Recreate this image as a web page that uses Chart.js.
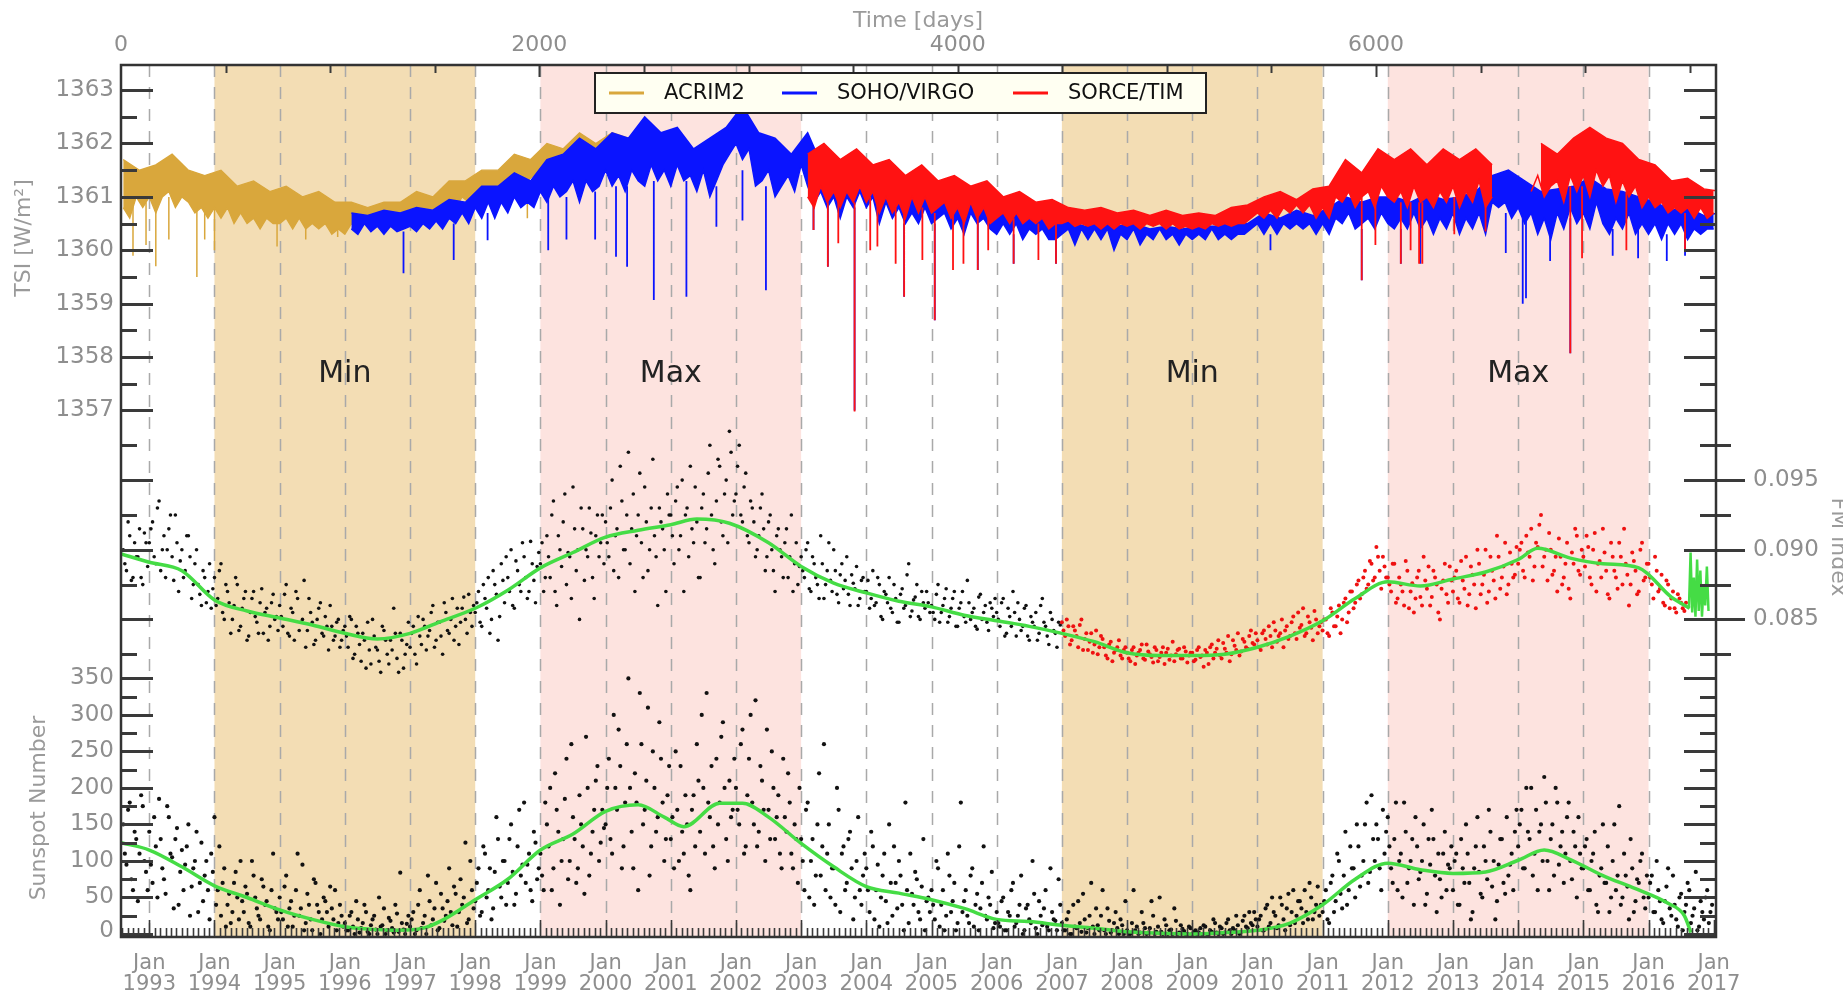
<!DOCTYPE html>
<html>
<head>
<meta charset="utf-8">
<script src="https://cdn.jsdelivr.net/npm/chart.js@4.4.0/dist/chart.umd.min.js"></script>
<style>
  html, body { margin: 0; padding: 0; background: #fff; }
  #wrap { width: 1843px; height: 999px; }
</style>
</head>
<body>
<div id="wrap"><canvas id="chart" width="1843" height="999"></canvas></div>
<script>
// ---- axis ranges ----
const yearMin = 1992.566, yearMax = 2017.035;
const dayMin = 0, dayMax = 7625;
const tsiMin = 1347.14, tsiMax = 1363.47;
const spotMin = -4.1, spotMax = 1190;
const fmMin = 0.0622, fmMax = 0.1248;

// ---- tick labels ----
const yearTicks = [1993, 1994, 1995, 1996, 1997, 1998, 1999, 2000, 2001, 2002, 2003, 2004, 2005,
  2006, 2007, 2008, 2009, 2010, 2011, 2012, 2013, 2014, 2015, 2016, 2017];
const dayTicks = [0, 2000, 4000, 6000];
const tsiTicks = [1357, 1358, 1359, 1360, 1361, 1362, 1363];
const spotTicks = [0, 50, 100, 150, 200, 250, 300, 350];
const fmTicks = [0.085, 0.090, 0.095];

// ---- solar cycle phases ----
const minBands = [[1994, 1998], [2007, 2011]];
const maxBands = [[1999, 2003], [2012, 2016]];
const phaseLabels = [[1996, 'Min'], [2001, 'Max'], [2009, 'Min'], [2014, 'Max']];

// ---- TSI, W/m^2: lower edge every 0.1 yr, upper edge every 0.25 yr, dips listed apart ----
const lowStep = 0.1, topStep = 0.25;
const acrimStart = 1992.6;
const acrim2Low = [
  1360.8, 1360.6, 1361.0, 1360.8,
  1361.0, 1360.7, 1361.0, 1361.1, 1360.8, 1361.0, 1360.9, 1360.7, 1360.8, 1360.6,
  1360.8, 1360.6, 1360.8, 1360.5, 1360.7, 1360.5, 1360.6, 1360.4, 1360.6, 1360.5,
  1360.5, 1360.6, 1360.4, 1360.6, 1360.4, 1360.5, 1360.4, 1360.5, 1360.3, 1360.4,
  1360.3, 1360.5, 1360.4, 1360.5, 1360.4, 1360.5, 1360.5, 1360.5, 1360.6, 1360.5,
  1360.6, 1360.6, 1360.7, 1360.6, 1360.7, 1360.8, 1360.9, 1360.8, 1361.0, 1360.9,
  1361.0, 1361.1, 1361.0, 1361.2, 1361.1, 1361.3, 1361.2, 1361.4, 1361.3, 1361.4,
  1361.3, 1361.5, 1361.4, 1361.6, 1361.5, 1361.7, 1361.6, 1361.8, 1361.7, 1361.8,
  1361.6, 1361.8, 1361.7, 1361.8, 1361.6, 1361.8, 1361.7, 1361.9, 1361.7
];
const acrim2Top = [
  1361.7, 1361.5,
  1361.6, 1361.8, 1361.5, 1361.4,
  1361.5, 1361.2, 1361.3, 1361.1,
  1361.2, 1361.0, 1361.1, 1360.9,
  1360.9, 1360.8, 1360.9, 1360.9,
  1361.1, 1361.0, 1361.3, 1361.3,
  1361.5, 1361.5, 1361.8, 1361.7,
  1362.0, 1361.9, 1362.2, 1362.0,
  1362.2, 1362.1, 1362.3, 1362.1
];
const acrim2DipYears = [1992.75, 1992.95, 1993.1, 1993.3, 1993.73, 1993.85, 1994.0, 1994.96, 1995.4, 1995.89, 1998.8];
const acrim2DipFrom = [1360.9, 1360.9, 1361.0, 1361.0, 1360.9, 1360.8, 1360.8, 1360.6, 1360.5, 1360.4, 1361.3];
const acrim2DipTo = [1359.9, 1360.1, 1359.7, 1360.2, 1359.5, 1360.2, 1360.0, 1360.07, 1360.2, 1360.25, 1360.6];

const virgoStart = 1996.1;
const sohoVirgoLow = [
  1360.4, 1360.3, 1360.5, 1360.35, 1360.45, 1360.3, 1360.45, 1360.35, 1360.4,
  1360.45, 1360.35, 1360.5, 1360.4, 1360.55, 1360.4, 1360.6, 1360.5, 1360.7, 1360.5,
  1360.8, 1360.6, 1360.9, 1360.6, 1360.9, 1360.7, 1361.0, 1360.8, 1360.9, 1360.8,
  1361.1, 1360.9, 1361.2, 1361.0, 1361.1, 1361.3, 1360.9, 1361.3, 1361.1, 1361.2,
  1361.5, 1361.2, 1361.4, 1361.1, 1361.5, 1361.3, 1361.2, 1361.6, 1361.3, 1361.5,
  1361.2, 1361.6, 1361.3, 1361.4, 1361.1, 1361.5, 1361.0, 1361.3, 1361.6, 1361.8,
  1362.0, 1361.7, 1361.9, 1361.2, 1361.3, 1361.5, 1361.0, 1361.2, 1361.4, 1361.1,
  1361.6, 1361.2, 1360.9, 1361.1, 1360.8, 1361.0, 1360.6, 1361.0, 1360.8, 1361.1,
  1360.8, 1361.0, 1360.5, 1360.9, 1360.6, 1360.8, 1360.5, 1360.7, 1360.5, 1360.8,
  1360.5, 1360.6, 1360.7, 1360.4, 1360.6, 1360.3, 1360.7, 1360.5, 1360.6, 1360.4,
  1360.3, 1360.5, 1360.3, 1360.5, 1360.2, 1360.4, 1360.3, 1360.4, 1360.2, 1360.2,
  1360.3, 1360.4, 1360.1, 1360.4, 1360.2, 1360.4, 1360.2, 1360.4, 1360.0, 1360.3,
  1360.2, 1360.4, 1360.1, 1360.3, 1360.2, 1360.4, 1360.2, 1360.3, 1360.1, 1360.3,
  1360.2, 1360.3, 1360.2, 1360.4, 1360.2, 1360.3, 1360.2, 1360.3, 1360.3, 1360.4,
  1360.5, 1360.3, 1360.5, 1360.3, 1360.5, 1360.4, 1360.5, 1360.4, 1360.5, 1360.3,
  1360.5, 1360.3, 1360.6, 1360.5, 1360.7, 1360.4, 1360.5, 1360.6, 1360.4, 1360.7,
  1360.5, 1360.4, 1360.6, 1360.4, 1360.7, 1360.4, 1360.6, 1360.3, 1360.6, 1360.4,
  1360.7, 1360.3, 1360.6, 1360.4, 1360.7, 1360.3, 1360.9, 1360.8, 1360.9, 1360.6,
  1360.8, 1360.5, 1360.7, 1360.3, 1360.6, 1360.2, 1360.7, 1360.4, 1360.8, 1360.5,
  1360.7, 1360.4, 1360.9, 1360.5, 1360.3, 1360.6, 1360.4, 1360.7, 1360.3, 1360.5,
  1360.3, 1360.5, 1360.2, 1360.5, 1360.3, 1360.5, 1360.2, 1360.4, 1360.3, 1360.4,
  1360.4
];
const sohoVirgoTop = [
  1360.7, 1360.65, 1360.75, 1360.7,
  1360.8, 1360.75, 1360.95, 1360.9,
  1361.2, 1361.2, 1361.45, 1361.3,
  1361.7, 1361.8, 1362.1, 1361.9,
  1362.2, 1362.1, 1362.5, 1362.2,
  1362.3, 1361.9, 1362.1, 1362.3,
  1362.7, 1362.2, 1362.1, 1361.8,
  1362.2, 1361.5, 1361.6, 1361.4,
  1361.4, 1361.2, 1361.3, 1361.1,
  1361.2, 1360.9, 1361.1, 1360.9,
  1360.9, 1360.7, 1360.8, 1360.6,
  1360.55, 1360.45, 1360.5, 1360.45,
  1360.5, 1360.4, 1360.45, 1360.4,
  1360.45, 1360.45, 1360.5, 1360.5,
  1360.7, 1360.6, 1360.75, 1360.65,
  1360.8, 1361.0, 1360.9, 1361.0,
  1361.0, 1360.9, 1361.05, 1360.95,
  1361.0, 1361.1, 1361.4, 1361.5,
  1361.3, 1361.1, 1361.15, 1361.2,
  1361.35, 1361.15, 1361.1, 1361.0,
  1360.9, 1360.75, 1360.8, 1360.65,
  1360.7
];
const sohoVirgoDipYears = [1996.9, 1997.67, 1998.19, 1999.12, 1999.4, 1999.84, 2000.16, 2000.33, 2000.74,
  2001.24, 2001.7, 2002.1, 2002.46, 2003.19, 2003.41, 2003.82, 2004.58, 2005.05, 2005.71, 2006.26,
  2006.91, 2010.2, 2011.6, 2012.2, 2012.5, 2013.81, 2014.07, 2014.12, 2014.49, 2014.8, 2015.45,
  2015.84, 2016.28, 2016.56];
const sohoVirgoDipFrom = [1360.35, 1360.5, 1360.7, 1361.0, 1361.0, 1361.1, 1361.2, 1361.2, 1361.3,
  1361.3, 1361.2, 1361.5, 1361.2, 1360.9, 1360.9, 1360.8, 1360.5, 1360.5, 1360.5, 1360.3,
  1360.2, 1360.3, 1360.4, 1360.4, 1360.4, 1360.7, 1360.6, 1360.6, 1360.5, 1360.6, 1360.4,
  1360.4, 1360.3, 1360.3];
const sohoVirgoDipTo = [1359.57, 1359.82, 1360.19, 1360.0, 1360.2, 1360.2, 1359.88, 1359.69, 1359.07,
  1359.13, 1360.44, 1360.56, 1359.25, 1360.38, 1359.69, 1357.0, 1359.13, 1358.69, 1359.63, 1359.75,
  1359.75, 1360.0, 1359.44, 1359.75, 1359.75, 1359.95, 1359.0, 1359.1, 1359.8, 1358.07, 1359.9,
  1359.85, 1359.8, 1359.9];

const timStart = 2003.1;
const sorceTimLow = [
  1361.0, 1360.8, 1361.2, 1360.9, 1361.1, 1360.8, 1361.1, 1360.9, 1361.2,
  1360.9, 1361.1, 1360.7, 1361.0, 1360.7, 1360.9, 1360.6, 1361.0, 1360.7, 1361.0,
  1360.7, 1360.8, 1360.9, 1360.6, 1360.8, 1360.5, 1360.9, 1360.6, 1360.8, 1360.5,
  1360.6, 1360.7, 1360.5, 1360.7, 1360.5, 1360.6, 1360.5, 1360.6, 1360.4, 1360.5,
  1360.5, 1360.55, 1360.45, 1360.5, 1360.45, 1360.5, 1360.4, 1360.5, 1360.4, 1360.5,
  1360.45, 1360.5, 1360.4, 1360.5, 1360.45, 1360.5, 1360.4, 1360.5, 1360.4, 1360.45,
  1360.4, 1360.45, 1360.4, 1360.5, 1360.45, 1360.5, 1360.45, 1360.5, 1360.5, 1360.6,
  1360.7, 1360.6, 1360.75, 1360.6, 1360.8, 1360.7, 1360.85, 1360.7, 1360.85, 1360.6,
  1360.8, 1360.6, 1361.0, 1360.9, 1361.1, 1360.8, 1361.0, 1361.1, 1360.8, 1361.2,
  1361.0, 1360.9, 1361.1, 1360.8, 1361.2, 1360.9, 1361.0, 1360.8, 1361.1, 1360.9,
  1361.2, 1360.8, 1361.1, 1360.9, 1361.3, 1360.8, 1361.0, null, null, null,
  null, null, 1361.1, 1361.4, 1361.0, 1361.2, 1361.3, 1360.9, 1361.4, 1361.1,
  1361.4, 1361.0, 1361.5, 1361.2, 1361.4, 1360.9, 1361.3, 1361.0, 1361.2, 1360.8,
  1361.0, 1360.8, 1360.9, 1360.7, 1360.8, 1360.7, 1360.8, 1360.6, 1360.8, 1360.6,
  1360.7
];
const sorceTimTop = [
  1361.8, 1362.0, 1361.7, 1361.9,
  1361.6, 1361.7, 1361.4, 1361.6,
  1361.3, 1361.4, 1361.2, 1361.3,
  1361.0, 1361.1, 1360.9, 1360.95,
  1360.8, 1360.75, 1360.8, 1360.7,
  1360.75, 1360.65, 1360.75, 1360.65,
  1360.7, 1360.65, 1360.8, 1360.85,
  1361.0, 1361.1, 1360.95, 1361.15,
  1361.2, 1361.7, 1361.45, 1361.9,
  1361.7, 1361.9, 1361.6, 1361.9,
  1361.7, 1361.9, 1361.6, null,
  null, 1362.0, 1361.8, 1362.1,
  1362.3, 1362.1, 1362.0, 1361.7,
  1361.6, 1361.3, 1361.35, 1361.15,
  1361.1
];
const sorceTimDipYears = [2003.19, 2003.41, 2003.57, 2003.82, 2004.06, 2004.17, 2004.45, 2004.58, 2004.86,
  2005.05, 2005.33, 2005.49, 2005.71, 2005.87, 2006.26, 2006.64, 2006.91, 2011.6, 2011.81, 2012.2,
  2012.35, 2012.48, 2012.53, 2013.02, 2013.5, 2014.8, 2014.98, 2015.66, 2016.56];
const sorceTimDipFrom = [1361.0, 1360.9, 1361.0, 1360.9, 1361.0, 1360.9, 1360.8, 1360.7, 1360.8,
  1360.7, 1360.7, 1360.6, 1360.7, 1360.6, 1360.6, 1360.5, 1360.5, 1361.0, 1361.0, 1360.9,
  1360.9, 1360.9, 1360.9, 1361.0, 1360.9, 1361.2, 1361.2, 1361.1, 1360.7];
const sorceTimDipTo = [1360.38, 1359.69, 1360.13, 1356.98, 1360.0, 1360.07, 1359.75, 1359.13, 1359.82,
  1358.69, 1359.63, 1359.75, 1359.63, 1360.0, 1359.75, 1359.82, 1359.75, 1359.44, 1360.1, 1359.75,
  1360.0, 1359.75, 1359.75, 1360.3, 1360.35, 1358.07, 1359.85, 1360.0, 1360.0];

// ---- FM index daily samples, two interleaved sets every 0.05 yr ----
const dotStep = 0.05;
const fmBlackStart = 1992.6;
const fmBlack = [
  0.0900, 0.0885, 0.0910, 0.0880, 0.0895, 0.0915, 0.0875, 0.0905,
  0.0905, 0.0920, 0.0890, 0.0935, 0.0900, 0.0880, 0.0915, 0.0895, 0.0925, 0.0870, 0.0900, 0.0885, 0.0910, 0.0865, 0.0890, 0.0875, 0.0860, 0.0880, 0.0870, 0.0858,
  0.0880, 0.0865, 0.0890, 0.0850, 0.0870, 0.0840, 0.0860, 0.0875, 0.0845, 0.0865, 0.0835, 0.0855, 0.0870, 0.0848, 0.0862, 0.0840, 0.0858, 0.0845, 0.0868, 0.0852,
  0.0860, 0.0845, 0.0875, 0.0838, 0.0855, 0.0870, 0.0842, 0.0850, 0.0830, 0.0865, 0.0848, 0.0835, 0.0858, 0.0840, 0.0852, 0.0828, 0.0845, 0.0838, 0.0850, 0.0835,
  0.0845, 0.0830, 0.0850, 0.0825, 0.0840, 0.0820, 0.0835, 0.0848, 0.0818, 0.0838, 0.0828, 0.0812, 0.0842, 0.0825, 0.0835, 0.0858, 0.0822, 0.0840, 0.0815, 0.0832,
  0.0830, 0.0845, 0.0818, 0.0838, 0.0850, 0.0828, 0.0842, 0.0860, 0.0835, 0.0848, 0.0825, 0.0855, 0.0840, 0.0865, 0.0845, 0.0832, 0.0858, 0.0850, 0.0868, 0.0845,
  0.0855, 0.0870, 0.0845, 0.0865, 0.0880, 0.0850, 0.0875, 0.0835, 0.0890, 0.0862, 0.0880, 0.0900, 0.0858, 0.0885, 0.0870, 0.0895, 0.0865, 0.0906, 0.0878, 0.0888,
  0.0890, 0.0870, 0.0910, 0.0880, 0.0935, 0.0860, 0.0900, 0.0920, 0.0875, 0.0895, 0.0945, 0.0885, 0.0850, 0.0915, 0.0900, 0.0930, 0.0880, 0.0910, 0.0895, 0.0925,
  0.0920, 0.0895, 0.0950, 0.0910, 0.0880, 0.0935, 0.0900, 0.0970, 0.0915, 0.0870, 0.0925, 0.0905, 0.0945, 0.0885, 0.0930, 0.0910, 0.0860, 0.0920, 0.0900, 0.0940,
  0.0925, 0.0890, 0.0945, 0.0910, 0.0870, 0.0930, 0.0960, 0.0905, 0.0920, 0.0880, 0.0940, 0.0915, 0.0975, 0.0900, 0.0935, 0.0960, 0.0910, 0.0950, 0.0985, 0.0925,
  0.0940, 0.0975, 0.0920, 0.0955, 0.0905, 0.0930, 0.0895, 0.0910, 0.0940, 0.0885, 0.0920, 0.0900, 0.0870, 0.0915, 0.0895, 0.0905, 0.0880, 0.0925, 0.0890, 0.0875,
  0.0895, 0.0880, 0.0905, 0.0870, 0.0890, 0.0875, 0.0910, 0.0865, 0.0885, 0.0878, 0.0900, 0.0868, 0.0882, 0.0872, 0.0895, 0.0860, 0.0876, 0.0888, 0.0865, 0.0880,
  0.0870, 0.0858, 0.0885, 0.0862, 0.0875, 0.0850, 0.0868, 0.0880, 0.0855, 0.0865, 0.0848, 0.0872, 0.0860, 0.0890, 0.0856, 0.0866, 0.0852, 0.0870, 0.0858, 0.0862,
  0.0860, 0.0850, 0.0875, 0.0855, 0.0865, 0.0848, 0.0858, 0.0870, 0.0845, 0.0862, 0.0852, 0.0878, 0.0850, 0.0858, 0.0843, 0.0868, 0.0855, 0.0848, 0.0862, 0.0852,
  0.0855, 0.0845, 0.0865, 0.0840, 0.0852, 0.0870, 0.0838, 0.0850, 0.0845, 0.0860, 0.0835, 0.0848, 0.0855, 0.0840, 0.0865, 0.0845, 0.0832, 0.0850, 0.0840, 0.0848
];
const fmBlackB = [
  0.0890, 0.0920, 0.0878, 0.0905, 0.0895, 0.0880, 0.0912, 0.0888,
  0.0915, 0.0895, 0.0930, 0.0885, 0.0910, 0.0900, 0.0925, 0.0878, 0.0905, 0.0892, 0.0880, 0.0910, 0.0895, 0.0875, 0.0900, 0.0868, 0.0885, 0.0862, 0.0890, 0.0872,
  0.0860, 0.0885, 0.0855, 0.0875, 0.0862, 0.0850, 0.0880, 0.0842, 0.0858, 0.0870, 0.0838, 0.0865, 0.0852, 0.0840, 0.0872, 0.0855, 0.0835, 0.0862, 0.0850, 0.0842,
  0.0852, 0.0868, 0.0840, 0.0858, 0.0835, 0.0865, 0.0848, 0.0878, 0.0842, 0.0855, 0.0832, 0.0850, 0.0862, 0.0838, 0.0845, 0.0860, 0.0835, 0.0848, 0.0830, 0.0842,
  0.0838, 0.0852, 0.0822, 0.0845, 0.0832, 0.0840, 0.0815, 0.0828, 0.0850, 0.0830, 0.0820, 0.0845, 0.0835, 0.0818, 0.0828, 0.0840, 0.0812, 0.0835, 0.0825, 0.0848,
  0.0840, 0.0825, 0.0852, 0.0832, 0.0845, 0.0838, 0.0855, 0.0830, 0.0848, 0.0838, 0.0862, 0.0842, 0.0850, 0.0835, 0.0858, 0.0848, 0.0866, 0.0840, 0.0855, 0.0860,
  0.0862, 0.0848, 0.0875, 0.0858, 0.0840, 0.0885, 0.0868, 0.0852, 0.0878, 0.0895, 0.0870, 0.0860, 0.0892, 0.0875, 0.0905, 0.0880, 0.0870, 0.0890, 0.0862, 0.0898,
  0.0905, 0.0880, 0.0895, 0.0925, 0.0870, 0.0910, 0.0888, 0.0940, 0.0898, 0.0865, 0.0915, 0.0900, 0.0930, 0.0878, 0.0895, 0.0912, 0.0865, 0.0925, 0.0905, 0.0890,
  0.0905, 0.0930, 0.0885, 0.0915, 0.0960, 0.0900, 0.0925, 0.0890, 0.0940, 0.0910, 0.0955, 0.0880, 0.0920, 0.0900, 0.0965, 0.0895, 0.0930, 0.0915, 0.0870, 0.0925,
  0.0910, 0.0935, 0.0900, 0.0950, 0.0925, 0.0895, 0.0915, 0.0945, 0.0880, 0.0930, 0.0905, 0.0955, 0.0925, 0.0890, 0.0965, 0.0920, 0.0940, 0.0905, 0.0970, 0.0935,
  0.0960, 0.0925, 0.0945, 0.0910, 0.0935, 0.0920, 0.0900, 0.0930, 0.0915, 0.0895, 0.0925, 0.0885, 0.0910, 0.0900, 0.0880, 0.0915, 0.0895, 0.0870, 0.0905, 0.0888,
  0.0885, 0.0900, 0.0872, 0.0895, 0.0880, 0.0865, 0.0890, 0.0875, 0.0905, 0.0870, 0.0885, 0.0862, 0.0890, 0.0878, 0.0868, 0.0882, 0.0872, 0.0860, 0.0878, 0.0870,
  0.0878, 0.0865, 0.0860, 0.0880, 0.0852, 0.0870, 0.0862, 0.0858, 0.0875, 0.0848, 0.0868, 0.0858, 0.0882, 0.0852, 0.0864, 0.0875, 0.0850, 0.0862, 0.0870, 0.0855,
  0.0855, 0.0868, 0.0848, 0.0860, 0.0872, 0.0852, 0.0865, 0.0845, 0.0858, 0.0870, 0.0848, 0.0862, 0.0855, 0.0845, 0.0866, 0.0850, 0.0860, 0.0842, 0.0858, 0.0865,
  0.0850, 0.0862, 0.0838, 0.0858, 0.0845, 0.0855, 0.0862, 0.0842, 0.0858, 0.0838, 0.0852, 0.0845, 0.0835, 0.0860, 0.0848, 0.0838, 0.0855, 0.0842, 0.0830, 0.0846
];
const fmRedStart = 2007.0;
const fmRed = [
  0.0848, 0.0838, 0.0845, 0.0835, 0.0842, 0.0830, 0.0850, 0.0836, 0.0828, 0.0840, 0.0832, 0.0825, 0.0838, 0.0830, 0.0822, 0.0834, 0.0826, 0.0830, 0.0824, 0.0828,
  0.0826, 0.0820, 0.0830, 0.0824, 0.0828, 0.0822, 0.0832, 0.0825, 0.0819, 0.0828, 0.0823, 0.0830, 0.0826, 0.0821, 0.0834, 0.0825, 0.0829, 0.0822, 0.0827, 0.0824,
  0.0826, 0.0821, 0.0830, 0.0824, 0.0828, 0.0818, 0.0832, 0.0826, 0.0835, 0.0822, 0.0829, 0.0838, 0.0825, 0.0831, 0.0840, 0.0827, 0.0834, 0.0829, 0.0842, 0.0832,
  0.0835, 0.0828, 0.0842, 0.0832, 0.0838, 0.0848, 0.0834, 0.0840, 0.0830, 0.0845, 0.0838, 0.0852, 0.0836, 0.0844, 0.0858, 0.0840, 0.0848, 0.0835, 0.0850, 0.0845,
  0.0842, 0.0850, 0.0838, 0.0855, 0.0845, 0.0860, 0.0850, 0.0865, 0.0855, 0.0870, 0.0862, 0.0878, 0.0868, 0.0885, 0.0875, 0.0890, 0.0880, 0.0895, 0.0872, 0.0888,
  0.0880, 0.0870, 0.0890, 0.0865, 0.0875, 0.0860, 0.0885, 0.0870, 0.0855, 0.0880, 0.0866, 0.0895, 0.0872, 0.0860, 0.0885, 0.0875, 0.0850, 0.0878, 0.0868, 0.0888,
  0.0870, 0.0885, 0.0862, 0.0878, 0.0895, 0.0868, 0.0882, 0.0858, 0.0890, 0.0875, 0.0900, 0.0870, 0.0885, 0.0865, 0.0895, 0.0880, 0.0905, 0.0875, 0.0890, 0.0882,
  0.0890, 0.0905, 0.0880, 0.0898, 0.0915, 0.0888, 0.0902, 0.0925, 0.0895, 0.0878, 0.0900, 0.0885, 0.0870, 0.0895, 0.0880, 0.0905, 0.0865, 0.0890, 0.0910, 0.0882,
  0.0895, 0.0910, 0.0880, 0.0900, 0.0870, 0.0892, 0.0915, 0.0885, 0.0865, 0.0895, 0.0880, 0.0905, 0.0875, 0.0890, 0.0860, 0.0898, 0.0885, 0.0870, 0.0905, 0.0880,
  0.0890, 0.0875, 0.0895, 0.0870, 0.0882, 0.0860, 0.0875, 0.0865, 0.0858, 0.0868, 0.0862, 0.0856
];
const fmRedB = [
  0.0842, 0.0850, 0.0832, 0.0845, 0.0838, 0.0846, 0.0828, 0.0840, 0.0834, 0.0826, 0.0842, 0.0830, 0.0836, 0.0824, 0.0832, 0.0820, 0.0828, 0.0835, 0.0822, 0.0830,
  0.0822, 0.0828, 0.0818, 0.0826, 0.0832, 0.0821, 0.0827, 0.0823, 0.0830, 0.0820, 0.0826, 0.0818, 0.0829, 0.0824, 0.0820, 0.0828, 0.0822, 0.0830, 0.0819, 0.0826,
  0.0820, 0.0828, 0.0823, 0.0816, 0.0826, 0.0830, 0.0822, 0.0829, 0.0824, 0.0833, 0.0826, 0.0820, 0.0835, 0.0828, 0.0824, 0.0836, 0.0830, 0.0838, 0.0833, 0.0840,
  0.0830, 0.0840, 0.0836, 0.0845, 0.0830, 0.0842, 0.0838, 0.0850, 0.0842, 0.0836, 0.0848, 0.0840, 0.0855, 0.0846, 0.0838, 0.0852, 0.0844, 0.0856, 0.0840, 0.0848,
  0.0850, 0.0840, 0.0858, 0.0845, 0.0852, 0.0840, 0.0862, 0.0848, 0.0870, 0.0858, 0.0875, 0.0865, 0.0880, 0.0872, 0.0892, 0.0878, 0.0902, 0.0885, 0.0895, 0.0880,
  0.0875, 0.0890, 0.0862, 0.0880, 0.0870, 0.0892, 0.0858, 0.0876, 0.0865, 0.0885, 0.0860, 0.0878, 0.0888, 0.0866, 0.0880, 0.0855, 0.0872, 0.0890, 0.0862, 0.0878,
  0.0880, 0.0865, 0.0892, 0.0872, 0.0860, 0.0888, 0.0875, 0.0900, 0.0868, 0.0882, 0.0862, 0.0895, 0.0878, 0.0910, 0.0872, 0.0888, 0.0868, 0.0898, 0.0880, 0.0902,
  0.0900, 0.0885, 0.0910, 0.0895, 0.0878, 0.0905, 0.0918, 0.0888, 0.0900, 0.0912, 0.0882, 0.0895, 0.0908, 0.0875, 0.0890, 0.0872, 0.0898, 0.0915, 0.0885, 0.0900,
  0.0888, 0.0902, 0.0875, 0.0912, 0.0890, 0.0880, 0.0898, 0.0868, 0.0905, 0.0885, 0.0872, 0.0895, 0.0915, 0.0882, 0.0875, 0.0892, 0.0868, 0.0900, 0.0878, 0.0890,
  0.0880, 0.0865, 0.0885, 0.0872, 0.0862, 0.0878, 0.0858, 0.0870, 0.0855, 0.0865, 0.0858, 0.0862
];
const fmTailStart = 2016.62, fmTailStep = 0.025;
const fmTail = [0.0858, 0.0898, 0.0855, 0.0880, 0.0852, 0.0893, 0.0856, 0.0885, 0.0852, 0.0875, 0.0860, 0.0888, 0.0856];

const fmSmoothYears = [1992.57, 1993.0, 1993.5, 1994.0, 1994.5, 1995.0, 1995.5, 1996.0, 1996.5, 1997.0,
  1997.5, 1998.0, 1998.5, 1999.0, 1999.5, 2000.0, 2000.5, 2001.0, 2001.4, 2001.9, 2002.5, 2003.0,
  2003.5, 2004.0, 2004.5, 2005.0, 2005.5, 2006.0, 2006.5, 2007.0, 2007.5, 2008.0, 2008.5, 2009.0,
  2009.5, 2010.0, 2010.5, 2011.0, 2011.5, 2012.0, 2012.5, 2013.0, 2013.5, 2014.0, 2014.3, 2014.8,
  2015.3, 2015.85, 2016.35, 2016.63];
const fmSmooth = [0.0897, 0.0891, 0.0885, 0.0864, 0.0856, 0.0851, 0.0846, 0.0840, 0.0836, 0.0840,
  0.0849, 0.0858, 0.0871, 0.0887, 0.0898, 0.0909, 0.0914, 0.0918, 0.0922, 0.0919, 0.0905, 0.0888,
  0.0876, 0.0869, 0.0863, 0.0859, 0.0853, 0.0849, 0.0845, 0.0840, 0.0834, 0.0826, 0.0824, 0.0824,
  0.0825, 0.0830, 0.0838, 0.0849, 0.0865, 0.0877, 0.0874, 0.0879, 0.0884, 0.0893, 0.0901, 0.0894,
  0.0890, 0.0887, 0.0866, 0.0858];

// ---- sunspot number, two interleaved sets every 0.05 yr ----
const spotStart = 1992.6;
const sunspots = [
  150, 95, 180, 60, 130, 110, 175, 85,
  140, 70, 120, 185, 90, 55, 160, 105, 130, 40, 115, 95, 150, 65, 100, 30, 125, 80, 60, 110,
  160, 60, 25, 90, 40, 15, 70, 50, 100, 30, 55, 10, 80, 35, 20, 65, 45, 5, 110, 30,
  50, 20, 80, 35, 10, 60, 25, 95, 15, 40, 5, 70, 30, 20, 45, 10, 35, 60, 15, 25,
  15, 5, 30, 0, 20, 8, 40, 3, 12, 25, 0, 10, 35, 5, 18, 2, 28, 84, 6, 14,
  10, 30, 5, 60, 15, 0, 45, 20, 70, 8, 35, 25, 90, 12, 55, 30, 40, 125, 20, 60,
  45, 90, 30, 110, 60, 20, 85, 130, 50, 100, 70, 150, 40, 120, 80, 180, 95, 60, 140, 75,
  110, 60, 150, 200, 90, 170, 40, 130, 240, 100, 160, 70, 190, 120, 270, 80, 140, 210, 100, 170,
  150, 240, 110, 200, 280, 90, 180, 350, 140, 220, 60, 260, 170, 310, 120, 200, 160, 240, 100, 190,
  130, 90, 170, 230, 110, 150, 60, 190, 260, 140, 200, 330, 160, 120, 240, 180, 290, 130, 210, 170,
  200, 150, 280, 120, 240, 180, 320, 140, 210, 100, 170, 250, 130, 190, 90, 160, 220, 110, 150, 70,
  130, 60, 180, 100, 40, 150, 80, 260, 110, 50, 90, 200, 30, 120, 70, 140, 20, 100, 60, 80,
  90, 30, 120, 60, 10, 80, 45, 150, 25, 70, 100, 40, 180, 15, 55, 85, 30, 65, 5, 50,
  60, 20, 90, 40, 5, 110, 30, 70, 15, 180, 45, 25, 80, 10, 55, 35, 120, 20, 40, 8,
  30, 10, 50, 5, 25, 70, 15, 40, 0, 35, 20, 100, 8, 45, 12, 60, 5, 30, 18, 75,
  15, 5, 30, 0, 10, 45, 3, 20, 8, 70, 0, 12, 25, 5, 35, 2, 15, 8, 20, 0,
  5, 0, 60, 10, 2, 15, 0, 8, 25, 3, 50, 0, 12, 5, 0, 18, 2, 7, 0, 10,
  0, 5, 2, 0, 10, 0, 3, 15, 0, 8, 2, 20, 0, 5, 12, 3, 25, 8, 15, 30,
  10, 25, 5, 40, 15, 30, 8, 50, 20, 35, 12, 60, 25, 45, 15, 30, 70, 20, 40, 25,
  30, 60, 15, 80, 45, 100, 35, 140, 60, 90, 50, 120, 80, 150, 70, 190, 100, 130, 60, 110,
  160, 90, 130, 60, 110, 180, 70, 100, 40, 120, 85, 150, 55, 95, 130, 30, 75, 110, 60, 90,
  60, 110, 40, 90, 150, 70, 30, 120, 85, 50, 100, 170, 65, 20, 95, 130, 55, 80, 110, 140,
  120, 170, 90, 140, 200, 110, 60, 150, 215, 100, 130, 80, 180, 120, 70, 160, 100, 140, 50, 110,
  90, 130, 60, 110, 40, 80, 150, 70, 30, 100, 60, 175, 50, 80, 20, 90, 45, 70, 110, 35,
  50, 80, 30, 60, 20, 45, 90, 25, 40, 10, 55, 30, 70, 15, 35, 5, 45, 20, 60, 30
];
const sunspotsB = [
  110, 170, 75, 140, 45, 190, 100, 60,
  95, 160, 50, 130, 75, 175, 110, 35, 145, 85, 60, 120, 25, 90, 140, 70, 45, 100, 20, 85,
  40, 120, 70, 10, 55, 30, 85, 20, 45, 65, 15, 100, 50, 25, 75, 40, 10, 60, 35, 20,
  30, 65, 10, 45, 25, 110, 35, 5, 55, 20, 75, 40, 0, 50, 30, 65, 20, 5, 40, 10,
  5, 25, 10, 45, 2, 15, 30, 0, 20, 6, 50, 12, 0, 22, 8, 40, 3, 15, 0, 25,
  20, 0, 40, 8, 25, 80, 12, 35, 5, 55, 18, 45, 30, 65, 10, 75, 50, 15, 100, 35,
  70, 25, 120, 50, 90, 35, 160, 65, 100, 40, 130, 85, 55, 170, 95, 70, 110, 45, 125, 90,
  80, 180, 120, 60, 220, 140, 100, 185, 75, 260, 130, 90, 150, 55, 200, 110, 170, 230, 125, 145,
  200, 130, 300, 170, 230, 120, 260, 200, 90, 180, 330, 150, 210, 80, 250, 140, 290, 180, 130, 230,
  160, 250, 100, 140, 190, 80, 170, 120, 210, 300, 110, 180, 230, 90, 150, 270, 200, 100, 160, 240,
  170, 260, 110, 190, 300, 150, 120, 230, 170, 280, 130, 200, 160, 110, 240, 140, 180, 90, 130, 200,
  100, 170, 50, 130, 80, 220, 120, 60, 150, 90, 40, 170, 110, 60, 130, 90, 50, 160, 40, 110,
  60, 140, 20, 95, 50, 110, 15, 70, 120, 35, 80, 5, 60, 110, 40, 75, 20, 130, 45, 30,
  40, 100, 10, 60, 25, 80, 45, 5, 120, 30, 60, 15, 90, 40, 5, 70, 25, 50, 85, 15,
  15, 45, 5, 30, 60, 10, 25, 80, 5, 40, 15, 55, 0, 25, 35, 10, 90, 20, 5, 40,
  5, 20, 0, 40, 8, 15, 55, 2, 25, 10, 35, 5, 60, 0, 18, 5, 30, 0, 12, 45,
  0, 15, 5, 0, 30, 8, 2, 45, 0, 10, 3, 20, 0, 6, 35, 0, 12, 4, 0, 8,
  3, 0, 8, 12, 0, 5, 20, 2, 10, 0, 15, 5, 8, 25, 0, 18, 10, 30, 12, 20,
  20, 5, 35, 10, 50, 25, 12, 40, 5, 55, 30, 15, 45, 35, 60, 20, 50, 30, 65, 40,
  45, 20, 70, 30, 110, 55, 80, 40, 120, 90, 150, 65, 100, 180, 85, 130, 150, 90, 170, 140,
  120, 70, 180, 100, 50, 140, 90, 130, 160, 75, 100, 40, 130, 170, 80, 110, 50, 140, 95, 120,
  100, 40, 130, 70, 110, 20, 90, 160, 55, 120, 75, 140, 100, 45, 130, 70, 160, 95, 60, 170,
  150, 90, 200, 130, 80, 170, 140, 100, 180, 60, 150, 200, 95, 140, 110, 180, 75, 120, 160, 90,
  120, 60, 100, 140, 30, 90, 70, 120, 50, 150, 80, 40, 110, 65, 130, 30, 75, 100, 50, 80,
  70, 30, 100, 45, 15, 65, 35, 80, 20, 50, 5, 40, 60, 25, 85, 10, 30, 50, 15, 40
];
const spotSmoothYears = [1992.57, 1993.0, 1993.5, 1994.0, 1994.5, 1995.0, 1995.5, 1996.0, 1996.5,
  1996.8, 1997.2, 1997.5, 1998.0, 1998.5, 1999.0, 1999.5, 2000.0, 2000.5, 2000.9, 2001.2, 2001.75,
  2002.1, 2002.5, 2003.0, 2003.5, 2004.0, 2004.5, 2005.0, 2005.5, 2006.0, 2006.5, 2007.0, 2007.5,
  2008.0, 2008.5, 2009.0, 2009.5, 2010.0, 2010.5, 2011.0, 2011.5, 2012.0, 2012.5, 2013.0, 2013.5,
  2014.0, 2014.4, 2014.8, 2015.3, 2015.8, 2016.3, 2016.55, 2016.65];
const spotSmooth = [125, 115, 92, 66, 50, 33, 20, 10, 6, 5, 8, 19, 47, 75, 115, 137, 168, 177, 160,
  147, 179, 179, 160, 124, 92, 65, 56, 47, 35, 20, 17, 12, 8, 3, 1, 0, 2, 5, 15, 40, 75, 97, 88, 83,
  85, 101, 115, 102, 80, 62, 42, 25, 2];

// ---- styles ----
const colAcrim = '#d9a73c', colVirgo = '#0a14ff', colTim = '#ff1212', colGreen = '#45dc45';
const colMinBand = '#f3ddb4', colMaxBand = '#fde3df';
const labelGray = '#8e8e8e', tickInk = '#3a3a3a';
const fontFam = '"DejaVu Sans", "Liberation Sans", sans-serif';

function series(start, step, values) {
  return values.map((v, i) => ({ x: +(start + i * step).toFixed(3), y: v }));
}
function pairs(xs, ys) {
  return xs.map((x, i) => ({ x: x, y: ys[i] }));
}
// each dip is a vertical stroke from the band edge down to the dip value
function dips(years, from, to) {
  const out = [];
  years.forEach((t, i) => {
    out.push({ x: t, y: from[i] }, { x: t, y: to[i] }, { x: t, y: null });
  });
  return out;
}

const decor = {
  id: 'decor',
  beforeDatasetsDraw(chart) {
    const { ctx, chartArea: a, scales } = chart;
    const sx = scales.x;
    ctx.save();
    const band = (r, c) => {
      const x0 = sx.getPixelForValue(r[0]), x1 = sx.getPixelForValue(r[1]);
      ctx.fillStyle = c;
      ctx.fillRect(x0, a.top, x1 - x0, a.bottom - a.top);
    };
    minBands.forEach(r => band(r, colMinBand));
    maxBands.forEach(r => band(r, colMaxBand));

    ctx.strokeStyle = '#a9a9a9';
    ctx.lineWidth = 1.5;
    ctx.setLineDash([12, 10]);
    yearTicks.forEach(yr => {
      if (yr >= 2017) return;
      const px = Math.round(sx.getPixelForValue(yr)) + 0.5;
      ctx.beginPath();
      ctx.moveTo(px, a.top);
      ctx.lineTo(px, a.bottom);
      ctx.stroke();
    });
    ctx.setLineDash([]);

    ctx.fillStyle = '#222';
    ctx.font = '30px ' + fontFam;
    ctx.textAlign = 'center';
    ctx.textBaseline = 'middle';
    phaseLabels.forEach(p => ctx.fillText(p[1], sx.getPixelForValue(p[0]), 374));
    ctx.restore();
  },
  afterDraw(chart) {
    const { ctx, chartArea: a, scales } = chart;
    const sx = scales.x, sd = scales.xDays, yT = scales.yTsi, yS = scales.ySpot, yF = scales.yFm;
    ctx.save();

    // inward ticks on both sides
    ctx.strokeStyle = tickInk;
    ctx.lineWidth = 3;
    const hline = (x0, x1, y) => {
      ctx.beginPath(); ctx.moveTo(x0, y); ctx.lineTo(x1, y); ctx.stroke();
    };
    for (let v = 1357; v <= 1363.001; v += 0.5) {
      const y = Math.round(yT.getPixelForValue(v)) + 0.5;
      const len = Math.abs(v - Math.round(v)) < 0.01 ? 32 : 16;
      hline(a.left, a.left + len, y);
      hline(a.right - len, a.right, y);
    }
    for (let k = 0; k <= 6; k++) {
      const v = 0.0825 + k * 0.0025;
      const y = Math.round(yF.getPixelForValue(v)) + 0.5;
      const major = k % 2 === 1;
      hline(a.left, a.left + (major ? 32 : 16), y);
      if (major) hline(a.right - 32, a.right + 29, y);
      else hline(a.right - 16, a.right + 15, y);
    }
    for (let v = 0; v <= 350; v += 25) {
      const y = Math.round(yS.getPixelForValue(v)) + 0.5;
      const len = v % 50 === 0 ? 32 : 16;
      hline(a.left, a.left + len, y);
      hline(a.right - len, a.right, y);
    }

    // monthly ticks at the bottom, 500-day ticks on top
    ctx.lineWidth = 1.6;
    for (let yr = 1992; yr <= 2017; yr++) {
      for (let m = 0; m < 12; m++) {
        const v = yr + m / 12;
        if (v < yearMin || v > yearMax) continue;
        const px = Math.round(sx.getPixelForValue(v)) + 0.5;
        const len = m === 0 ? 17 : 9;
        ctx.beginPath(); ctx.moveTo(px, a.bottom); ctx.lineTo(px, a.bottom - len); ctx.stroke();
      }
    }
    ctx.lineWidth = 2;
    for (let d = 500; d < dayMax; d += 500) {
      const px = Math.round(sd.getPixelForValue(d)) + 0.5;
      const len = d % 2000 === 0 ? 12 : 8;
      ctx.beginPath(); ctx.moveTo(px, a.top); ctx.lineTo(px, a.top + len); ctx.stroke();
    }

    // frame
    ctx.lineWidth = 2.5;
    ctx.strokeStyle = '#333';
    ctx.strokeRect(a.left, a.top, a.right - a.left, a.bottom - a.top);

    // tick labels
    ctx.fillStyle = labelGray;
    ctx.textBaseline = 'middle';
    ctx.font = '23px ' + fontFam;
    ctx.textAlign = 'right';
    tsiTicks.forEach(v => ctx.fillText(String(v), 114, yT.getPixelForValue(v)));
    spotTicks.forEach(v => ctx.fillText(String(v), 114, Math.min(yS.getPixelForValue(v), 931)));
    ctx.textAlign = 'left';
    fmTicks.forEach(v => ctx.fillText(v.toFixed(3), 1753, yF.getPixelForValue(v)));
    ctx.textAlign = 'center';
    ctx.font = '22px ' + fontFam;
    dayTicks.forEach(v => ctx.fillText(String(v), sd.getPixelForValue(v), 45));
    ctx.font = '21px ' + fontFam;
    yearTicks.forEach(v => {
      const px = sx.getPixelForValue(v);
      ctx.fillText('Jan', px, 964);
      ctx.fillText(String(v), px, 985);
    });

    // axis titles
    ctx.fillStyle = '#9a9a9a';
    ctx.font = '22px ' + fontFam;
    ctx.fillText('Time [days]', 918, 21);
    ctx.save();
    ctx.translate(24, 238);
    ctx.rotate(-Math.PI / 2);
    ctx.fillText('TSI [W/m\u00b2]', 0, 0);
    ctx.restore();
    ctx.save();
    ctx.translate(39, 808);
    ctx.rotate(-Math.PI / 2);
    ctx.fillText('Sunspot Number', 0, 0);
    ctx.restore();
    ctx.save();
    ctx.translate(1838, 547);
    ctx.rotate(Math.PI / 2);
    ctx.fillText('FM index', 0, 0);
    ctx.restore();

    // legend box
    ctx.fillStyle = '#fffff2';
    ctx.fillRect(595, 73, 611, 40);
    ctx.lineWidth = 2;
    ctx.strokeStyle = '#222';
    ctx.strokeRect(595, 73, 611, 40);
    const items = [['ACRIM2', colAcrim, 609], ['SOHO/VIRGO', colVirgo, 782], ['SORCE/TIM', colTim, 1013]];
    ctx.font = '21px ' + fontFam;
    ctx.textAlign = 'left';
    items.forEach(it => {
      ctx.strokeStyle = it[1];
      ctx.lineWidth = 3;
      ctx.beginPath(); ctx.moveTo(it[2], 93); ctx.lineTo(it[2] + 35, 93); ctx.stroke();
      ctx.fillStyle = '#111';
      ctx.fillText(it[0], it[2] + 55, 94);
    });
    ctx.restore();
  }
};

const dots = (data, color, axis, order, r) => ({
  data: data, yAxisID: axis, order: order, showLine: false,
  pointRadius: r, pointBackgroundColor: color, pointBorderWidth: 0
});
const trace = (data, color, axis, order, w, smooth, fillTo) => ({
  type: 'line', data: data, yAxisID: axis, order: order, spanGaps: false,
  borderColor: color, backgroundColor: color, borderWidth: w, pointRadius: 0,
  fill: fillTo === undefined ? false : fillTo,
  tension: smooth ? 0.4 : 0, cubicInterpolationMode: smooth ? 'monotone' : 'default'
});

new Chart(document.getElementById('chart'), {
  type: 'scatter',
  data: {
    datasets: [
      trace(pairs(spotSmoothYears, spotSmooth), colGreen, 'ySpot', 1, 3.5, true),
      dots(series(spotStart, dotStep, sunspots), '#111', 'ySpot', 2, 2.1),
      dots(series(spotStart + 0.025, dotStep, sunspotsB), '#111', 'ySpot', 2, 2.1),
      trace(pairs(fmSmoothYears, fmSmooth), colGreen, 'yFm', 3, 3.5, true),
      trace(series(fmTailStart, fmTailStep, fmTail), colGreen, 'yFm', 4, 2.5, false),
      dots(series(fmRedStart, dotStep, fmRed), '#ee1111', 'yFm', 5, 2.0),
      dots(series(fmRedStart + 0.025, dotStep, fmRedB), '#ee1111', 'yFm', 5, 2.0),
      dots(series(fmBlackStart, dotStep, fmBlack), '#111', 'yFm', 6, 1.8),
      dots(series(fmBlackStart + 0.025, dotStep, fmBlackB), '#111', 'yFm', 6, 1.8),
      trace(dips(sorceTimDipYears, sorceTimDipFrom, sorceTimDipTo), colTim, 'yTsi', 7, 1.8, false),
      trace(series(timStart, lowStep, sorceTimLow), colTim, 'yTsi', 7, 1.5, false, 11),
      trace(series(timStart, topStep, sorceTimTop), colTim, 'yTsi', 7, 1.5, false),
      trace(dips(sohoVirgoDipYears, sohoVirgoDipFrom, sohoVirgoDipTo), colVirgo, 'yTsi', 8, 1.8, false),
      trace(series(virgoStart, lowStep, sohoVirgoLow), colVirgo, 'yTsi', 8, 1.5, false, 14),
      trace(series(virgoStart, topStep, sohoVirgoTop), colVirgo, 'yTsi', 8, 1.5, false),
      trace(dips(acrim2DipYears, acrim2DipFrom, acrim2DipTo), colAcrim, 'yTsi', 9, 1.5, false),
      trace(series(acrimStart, lowStep, acrim2Low), colAcrim, 'yTsi', 9, 1.3, false, 17),
      trace(series(acrimStart, topStep, acrim2Top), colAcrim, 'yTsi', 9, 1.3, false)
    ]
  },
  options: {
    responsive: false,
    devicePixelRatio: 1,
    animation: false,
    events: [],
    layout: { padding: { left: 121, right: 127, top: 65, bottom: 62 } },
    plugins: { legend: { display: false }, tooltip: { enabled: false } },
    scales: {
      x: { type: 'linear', min: yearMin, max: yearMax, display: false },
      xDays: { type: 'linear', axis: 'x', position: 'top', min: dayMin, max: dayMax, display: false },
      yTsi: { type: 'linear', min: tsiMin, max: tsiMax, display: false },
      ySpot: { type: 'linear', min: spotMin, max: spotMax, display: false },
      yFm: { type: 'linear', min: fmMin, max: fmMax, display: false }
    }
  },
  plugins: [decor]
});
</script>
</body>
</html>
